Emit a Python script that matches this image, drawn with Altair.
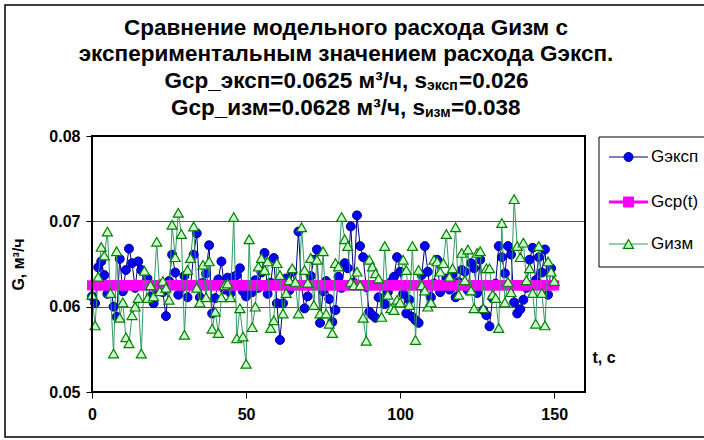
import altair as alt
import pandas as pd

# ---------------- data ----------------
t = list(range(151))

g_exp = [
    0.0612, 0.0604, 0.0646, 0.0653, 0.0637, 0.0615, 0.0625, 0.0600, 0.0588, 0.0656,
    0.0618, 0.0643, 0.0668, 0.0651, 0.0622, 0.0653, 0.0643, 0.0627, 0.0633, 0.0612,
    0.0604, 0.0620, 0.0626, 0.0617, 0.0589, 0.0630, 0.0661, 0.0640, 0.0614, 0.0622,
    0.0636, 0.0611, 0.0625, 0.0661, 0.0686, 0.0611, 0.0628, 0.0639, 0.0672, 0.0592,
    0.0610, 0.0632, 0.0653, 0.0620, 0.0634, 0.0616, 0.0635, 0.0637, 0.0645, 0.0618,
    0.0612, 0.0624, 0.0617, 0.0631, 0.0622, 0.0640, 0.0663, 0.0615, 0.0628, 0.0657,
    0.0604, 0.0561, 0.0604, 0.0633, 0.0619, 0.0641, 0.0626, 0.0688, 0.0625, 0.0598,
    0.0612, 0.0636, 0.0655, 0.0667, 0.0581, 0.0618, 0.0630, 0.0609, 0.0582, 0.0596,
    0.0635, 0.0622, 0.0651, 0.0645, 0.0694, 0.0628, 0.0707, 0.0671, 0.0658, 0.0623,
    0.0594, 0.0590, 0.0587, 0.0611, 0.0626, 0.0603, 0.0617, 0.0629, 0.0635, 0.0658,
    0.0641, 0.0615, 0.0592, 0.0608, 0.0588, 0.0584, 0.0581, 0.0637, 0.0671, 0.0641,
    0.0611, 0.0627, 0.0655, 0.0617, 0.0624, 0.0633, 0.0620, 0.0638, 0.0611, 0.0629,
    0.0643, 0.0641, 0.0619, 0.0651, 0.0645, 0.0616, 0.0655, 0.0596, 0.0590, 0.0577,
    0.0610, 0.0627, 0.0671, 0.0658, 0.0639, 0.0671, 0.0661, 0.0605, 0.0592, 0.0597,
    0.0608, 0.0622, 0.0655, 0.0669, 0.0631, 0.0658, 0.0640, 0.0667, 0.0614, 0.0645,
    0.0625,
]

g_izm = [
    0.0614, 0.0578, 0.0635, 0.0670, 0.0660, 0.0688, 0.0616, 0.0545, 0.0665, 0.0587,
    0.0605, 0.0564, 0.0557, 0.0590, 0.0600, 0.0610, 0.0545, 0.0642, 0.0610, 0.0625,
    0.0612, 0.0676, 0.0618, 0.0630, 0.0622, 0.0608, 0.0696, 0.0658, 0.0710, 0.0685,
    0.0567, 0.0643, 0.0657, 0.0694, 0.0622, 0.0605, 0.0649, 0.0611, 0.0653, 0.0574,
    0.0594, 0.0569, 0.0611, 0.0625, 0.0627, 0.0611, 0.0705, 0.0563, 0.0598, 0.0565,
    0.0533, 0.0679, 0.0576, 0.0600, 0.0647, 0.0657, 0.0643, 0.0653, 0.0575, 0.0584,
    0.0651, 0.0637, 0.0592, 0.0616, 0.0631, 0.0645, 0.0629, 0.0592, 0.0693, 0.0643,
    0.0628, 0.0657, 0.0602, 0.0655, 0.0592, 0.0665, 0.0592, 0.0580, 0.0569, 0.0651,
    0.0647, 0.0705, 0.0679, 0.0671, 0.0629, 0.0625, 0.0641, 0.0625, 0.0587, 0.0560,
    0.0655, 0.0647, 0.0639, 0.0633, 0.0588, 0.0671, 0.0614, 0.0598, 0.0596, 0.0608,
    0.0605, 0.0655, 0.0643, 0.0602, 0.0671, 0.0561, 0.0643, 0.0625, 0.0619, 0.0600,
    0.0605, 0.0655, 0.0653, 0.0641, 0.0651, 0.0685, 0.0635, 0.0645, 0.0693, 0.0614,
    0.0663, 0.0631, 0.0667, 0.0619, 0.0598, 0.0663, 0.0665, 0.0598, 0.0645, 0.0645,
    0.0614, 0.0610, 0.0575, 0.0698, 0.0605, 0.0629, 0.0617, 0.0726, 0.0671, 0.0658,
    0.0675, 0.0631, 0.0645, 0.0616, 0.0580, 0.0671, 0.0616, 0.0578, 0.0653, 0.0641,
    0.0630,
]

g_avg = [0.0625] * 151

series_names = ["Gэксп", "Gср(t)", "Gизм"]
x_ticks = [0, 50, 100, 150]
y_ticks = [0.05, 0.06, 0.07, 0.08]

title_lines = [
    "Сравнение модельного расхода Gизм с",
    "экспериментальным значением расхода Gэксп.",
]
title_line3 = ["Gср_эксп=0.0625 м³/ч, s", "эксп", "=0.026"]
title_line4 = ["Gср_изм=0.0628 м³/ч, s", "изм", "=0.038"]

# ---------------- chart ----------------
FONT = "Liberation Sans"
W, H = 493, 256

df = pd.DataFrame({"t": t, "g_exp": g_exp, "g_avg": g_avg, "g_izm": g_izm})

x_scale = alt.Scale(domain=[0, 160], nice=False, zero=False)
y_scale = alt.Scale(domain=[0.05, 0.08], nice=False, zero=False)

x_axis = alt.Axis(
    values=x_ticks, grid=False, domain=False, tickSize=6, tickColor="black",
    labelFont=FONT, labelFontSize=16, labelFontWeight="bold", labelColor="black",
    labelPadding=8, labelFlush=False,
    titleFont=FONT, titleFontSize=16, titleFontWeight="bold",
    titleColor="black", titleX=500, titleY=-35, titleAlign="left",
    titleBaseline="middle",
)
y_axis = alt.Axis(
    values=y_ticks, format=".2f", grid=True, gridColor="#555555", gridWidth=1,
    domain=False, tickSize=6, tickColor="black",
    labelFont=FONT, labelFontSize=16, labelFontWeight="bold", labelColor="black",
    labelPadding=6,
    titleFont=FONT, titleFontSize=16, titleFontWeight="bold",
    titleColor="black", titleAngle=270, titleX=-74, titleY=H / 2,
    titleAlign="center", titleBaseline="middle",
)

base = alt.Chart(df)

def xy(col):
    return dict(
        x=alt.X("t:Q", scale=x_scale, axis=x_axis, title="t, с"),
        y=alt.Y(f"{col}:Q", scale=y_scale, axis=y_axis, title="G, м³/ч"),
    )

exp_line = base.mark_line(color="#000080", strokeWidth=1).encode(**xy("g_exp"))
exp_pts = base.mark_point(shape="circle", filled=True, fill="#0000FF", stroke="#000080",
                          strokeWidth=1, size=80, opacity=1).encode(**xy("g_exp"))
avg_line = base.mark_line(color="#FF00FF", strokeWidth=3).encode(**xy("g_avg"))
avg_pts = base.mark_square(color="#FF00FF", size=100, opacity=1).encode(**xy("g_avg"))
izm_line = base.mark_line(color="#339966", strokeWidth=1).encode(**xy("g_izm"))
izm_pts = base.mark_point(shape="triangle-up", filled=True, fill="#CCFFCC", stroke="#008000",
                          strokeWidth=1.2, size=100, opacity=1).encode(**xy("g_izm"))

one = pd.DataFrame({"k": [0]})

def txt(s, x, y, size=22.5, weight="bold", align="center"):
    return alt.Chart(pd.DataFrame({"s": [s]})).mark_text(
        font=FONT, fontSize=size, fontWeight=weight, align=align,
        baseline="middle", color="black"
    ).encode(text="s:N", x=alt.value(x), y=alt.value(y))

layers = [exp_line, exp_pts, avg_line, avg_pts, izm_line, izm_pts]

# outer frame (no fill so axes stay visible)
layers.append(alt.Chart(one).mark_rect(fillOpacity=0, stroke="black", strokeWidth=1.5).encode(
    x=alt.value(-87), x2=alt.value(625), y=alt.value(-131), y2=alt.value(301)))

# plot frame
layers.append(alt.Chart(one).mark_rect(fillOpacity=0, stroke="black", strokeWidth=2).encode(
    x=alt.value(0), x2=alt.value(W), y=alt.value(0), y2=alt.value(H)))

# title
layers.append(txt(title_lines[0], 254, -108))
layers.append(txt(title_lines[1], 254, -82))
for (seg1, sub, seg3), yy, ax, sx in [(title_line3, -55, 335, 367), (title_line4, -28, 333, 359)]:
    layers.append(txt(seg1, ax, yy, align="right"))
    layers.append(txt(sub, ax, yy + 5, size=14, align="left"))
    layers.append(txt(seg3, sx, yy, align="left"))

# legend
layers.append(alt.Chart(one).mark_rect(fill="white", stroke="black", strokeWidth=1).encode(
    x=alt.value(507), x2=alt.value(640), y=alt.value(1), y2=alt.value(131)))
leg_y = [21, 66, 108]
leg_line_style = [dict(color="#000080", strokeWidth=1), dict(color="#FF00FF", strokeWidth=3),
                  dict(color="#339966", strokeWidth=1)]
leg_sym = [
    dict(shape="circle", filled=True, fill="#0000FF", stroke="#000080", strokeWidth=1, size=80),
    dict(shape="square", filled=True, fill="#FF00FF", stroke="#FF00FF", strokeWidth=1, size=100),
    dict(shape="triangle-up", filled=True, fill="#CCFFCC", stroke="#008000", strokeWidth=1.2, size=100),
]
for name, yy, ls, sym in zip(series_names, leg_y, leg_line_style, leg_sym):
    layers.append(alt.Chart(one).mark_rule(**ls).encode(
        x=alt.value(517), x2=alt.value(556), y=alt.value(yy)))
    layers.append(alt.Chart(one).mark_point(opacity=1, **sym).encode(
        x=alt.value(536.5), y=alt.value(yy)))
    layers.append(txt(name, 559, yy, size=17, weight="normal", align="left"))

chart = alt.layer(*layers).properties(
    width=W, height=H,
    autosize=alt.AutoSizeParams(type="none"),
    padding={"left": 92, "top": 136, "right": 119, "bottom": 48},
    background="white",
).configure_view(stroke=None).configure(font=FONT)

chart.save("out.html", embed_options={"renderer": "svg", "actions": False})
